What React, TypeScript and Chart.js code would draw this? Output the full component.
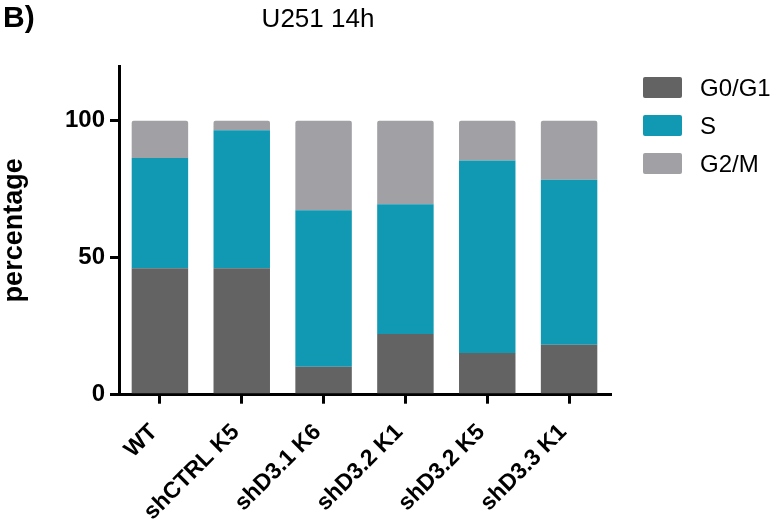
import React, { useEffect, useRef } from "react";
import { Chart, registerables } from "chart.js";

Chart.register(...registerables);

// Cell-cycle distribution (%) per cell line
const categories = ["WT", "shCTRL K5", "shD3.1 K6", "shD3.2 K1", "shD3.2 K5", "shD3.3 K1"];
const g0g1 = [46.2, 46.2, 10.2, 22.2, 15.2, 18.2];
const sPhase = [40.2, 50.3, 57.1, 47.3, 70.3, 60.3];
const g2m = [13.6, 3.5, 32.7, 30.5, 14.5, 21.5];
const seriesNames = ["G0/G1", "S", "G2/M"];
const yTickValues = [0, 50, 100];

const COLORS = ["#636363", "#1199b4", "#a1a0a5"];
const FONT = "'Liberation Sans', Arial, Helvetica, sans-serif";

const decorPlugin = {
  id: "decor",
  afterDraw(chart: any) {
    const ctx = chart.ctx;
    ctx.save();
    ctx.fillStyle = "#000";
    ctx.textBaseline = "alphabetic";
    // panel letter
    ctx.textAlign = "left";
    ctx.font = `bold 30px ${FONT}`;
    ctx.fillText("B)", 3, 27);
    // title
    ctx.textAlign = "center";
    ctx.font = `26px ${FONT}`;
    ctx.fillText("U251 14h", 318, 27);
    // legend
    ctx.textAlign = "left";
    ctx.font = `24px ${FONT}`;
    seriesNames.forEach((name, i) => {
      const cy = 87.5 + i * 38;
      ctx.fillStyle = COLORS[i];
      ctx.beginPath();
      (ctx as any).roundRect(643, cy - 10.5, 39, 21, 2);
      ctx.fill();
      ctx.fillStyle = "#000";
      ctx.fillText(name, 700, cy + 8.5);
    });
    ctx.restore();
  },
};

export default function App() {
  const ref = useRef<HTMLCanvasElement>(null);

  useEffect(() => {
    if (!ref.current) return;
    const values = [g0g1, sPhase, g2m];
    const chart = new Chart(ref.current, {
      type: "bar",
      data: {
        labels: categories,
        datasets: values.map((d, i) => ({
          label: seriesNames[i],
          data: d,
          backgroundColor: COLORS[i],
          borderWidth: 0,
          borderRadius: i === 2 ? { topLeft: 2, topRight: 2, bottomLeft: 0, bottomRight: 0 } : 0,
          borderSkipped: false,
          barPercentage: 0.69,
          categoryPercentage: 1,
        })),
      },
      options: {
        responsive: false,
        animation: false,
        events: [],
        layout: { padding: { top: 66, right: 165, left: 0, bottom: 0 } },
        plugins: {
          legend: { display: false },
          tooltip: { enabled: false },
        },
        scales: {
          x: {
            stacked: true,
            afterFit: (scale: any) => {
              scale.height = 125.3;
            },
            grid: {
              offset: false,
              drawOnChartArea: false,
              drawTicks: true,
              tickLength: 9,
              lineWidth: 3,
              color: "#000",
            },
            border: { display: true, color: "#000", width: 3 },
            ticks: {
              autoSkip: false,
              maxRotation: 45,
              minRotation: 45,
              padding: 15,
              labelOffset: -6,
              color: "#000",
              font: { family: FONT, size: 23, weight: "bold" },
            },
          },
          y: {
            stacked: true,
            min: 0,
            max: 120,
            afterFit: (scale: any) => {
              scale.width = 119;
            },
            afterBuildTicks: (scale: any) => {
              scale.ticks = yTickValues.map((v) => ({ value: v }));
            },
            grid: {
              drawOnChartArea: false,
              drawTicks: true,
              tickLength: 9,
              lineWidth: 3,
              color: "#000",
            },
            border: { display: true, color: "#000", width: 3 },
            ticks: {
              padding: 5,
              color: "#000",
              font: { family: FONT, size: 24, weight: "bold" },
            },
            title: {
              display: true,
              text: "percentage",
              color: "#000",
              padding: { top: -2, bottom: 0 },
              font: { family: FONT, size: 27, weight: "bold" },
            },
          },
        },
      },
      plugins: [decorPlugin],
    } as any);
    return () => chart.destroy();
  }, []);

  return (
    <div style={{ position: "absolute", left: 0, top: 0, width: 775, height: 520, background: "#fff" }}>
      <canvas ref={ref} width={775} height={520} style={{ display: "block" }} />
    </div>
  );
}
